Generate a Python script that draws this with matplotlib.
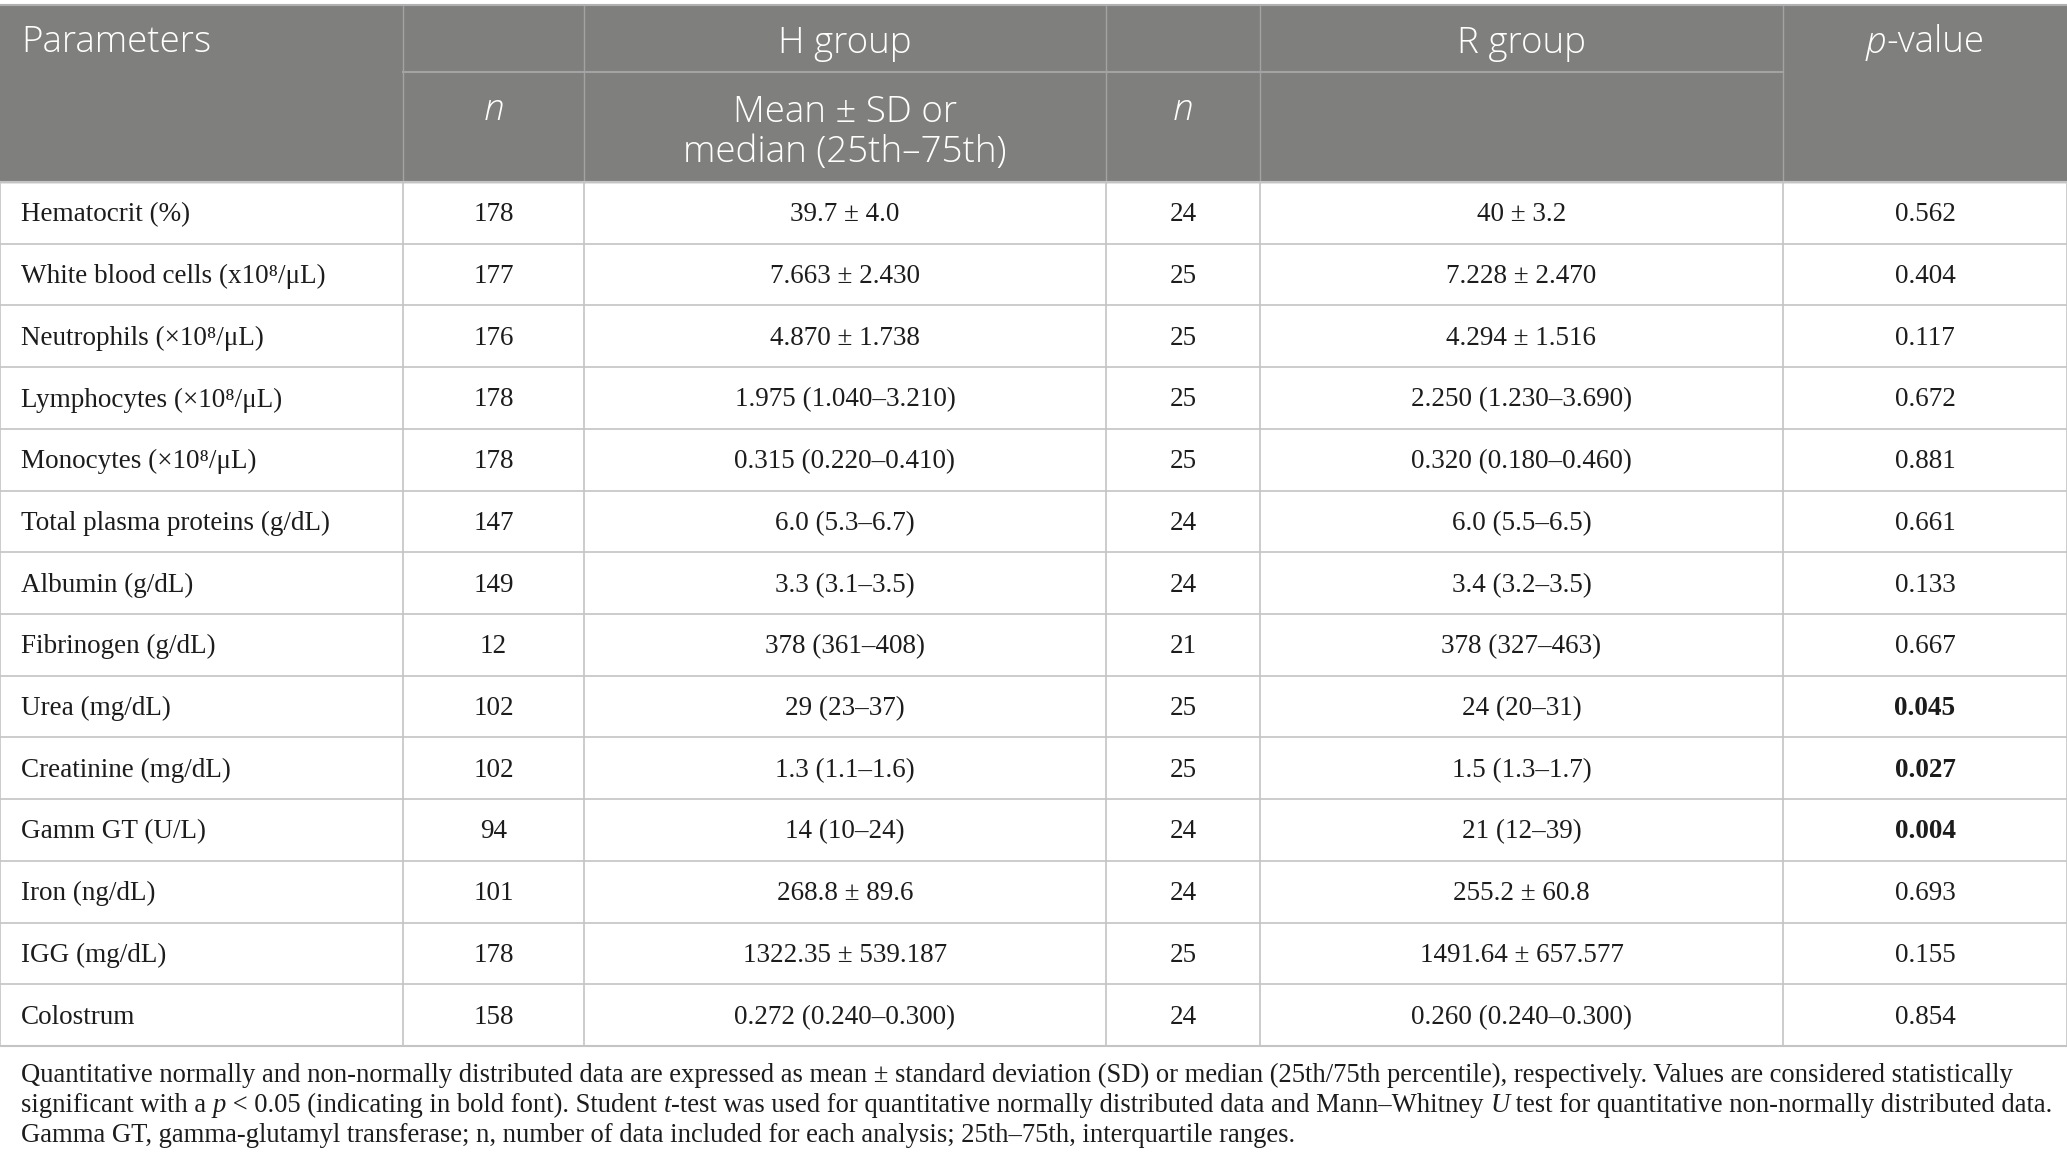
import matplotlib
matplotlib.use('Agg')
import matplotlib.pyplot as plt
from matplotlib.patches import Rectangle

# table contents
params = ['Hematocrit (%)', 'White blood cells (x10⁸/μL)', 'Neutrophils (×10⁸/μL)',
          'Lymphocytes (×10⁸/μL)', 'Monocytes (×10⁸/μL)', 'Total plasma proteins (g/dL)',
          'Albumin (g/dL)', 'Fibrinogen (g/dL)', 'Urea (mg/dL)', 'Creatinine (mg/dL)',
          'Gamm GT (U/L)', 'Iron (ng/dL)', 'IGG (mg/dL)', 'Colostrum']
h_n = [178, 177, 176, 178, 178, 147, 149, 12, 102, 102, 94, 101, 178, 158]
h_vals = ['39.7 ± 4.0', '7.663 ± 2.430', '4.870 ± 1.738', '1.975 (1.040–3.210)',
          '0.315 (0.220–0.410)', '6.0 (5.3–6.7)', '3.3 (3.1–3.5)', '378 (361–408)',
          '29 (23–37)', '1.3 (1.1–1.6)', '14 (10–24)', '268.8 ± 89.6',
          '1322.35 ± 539.187', '0.272 (0.240–0.300)']
r_n = [24, 25, 25, 25, 25, 24, 24, 21, 25, 25, 24, 24, 25, 24]
r_vals = ['40 ± 3.2', '7.228 ± 2.470', '4.294 ± 1.516', '2.250 (1.230–3.690)',
          '0.320 (0.180–0.460)', '6.0 (5.5–6.5)', '3.4 (3.2–3.5)', '378 (327–463)',
          '24 (20–31)', '1.5 (1.3–1.7)', '21 (12–39)', '255.2 ± 60.8',
          '1491.64 ± 657.577', '0.260 (0.240–0.300)']
p_vals = ['0.562', '0.404', '0.117', '0.672', '0.881', '0.661', '0.133', '0.667',
          '0.045', '0.027', '0.004', '0.693', '0.155', '0.854']
significant = [False] * 8 + [True, True, True] + [False] * 3

notes = [
    [('Quantitative normally and non-normally distributed data are expressed as mean ± standard deviation '
      '(SD) or median (25th/75th percentile), respectively. Values are considered statistically', 'normal')],
    [('significant with a ', 'normal'), ('p', 'italic'),
     (' < 0.05 (indicating in bold font). Student ', 'normal'), ('t', 'italic'),
     ('-test was used for quantitative normally distributed data and Mann–Whitney ', 'normal'),
     ('U', 'italic'), (' test for quantitative non-normally distributed data.', 'normal')],
    [('Gamma GT, gamma-glutamyl transferase; n, number of data included for each analysis; '
      '25th–75th, interquartile ranges.', 'normal')],
]

W, H = 2067, 1172
fig = plt.figure(figsize=(W / 100, H / 100), dpi=100)
ax = fig.add_axes([0, 0, 1, 1])
ax.set_xlim(0, W)
ax.set_ylim(H, 0)
ax.axis('off')
renderer = fig.canvas.get_renderer()

header_bg = '#7f807e'
grid = '#c4c4c4'
ink = '#1c1c1c'
serif = 'Liberation Serif'
sans = 'Open Sans'

cols = [0, 403, 584, 1106, 1260, 1783, 2067]
top, mid, hdr_bot = 5, 72, 182
row_h = (1046 - hdr_bot) / len(params)

# header block
ax.add_patch(Rectangle((0, top), W, hdr_bot - top, color=header_bg, zorder=0))
ax.plot([cols[1], cols[5]], [mid, mid], color='#a3a3a3', lw=1.5)
for x in cols[1:6]:
    ax.plot([x, x], [top, hdr_bot], color='#a3a3a3', lw=1)
ax.plot([0, W], [top, top], color='#b0b0b0', lw=1.5)

hkw = dict(color='white', fontsize=26.5, family=sans, fontweight='light', va='center')
ax.text(21, 43, 'Parameters', ha='left', **hkw)
ax.text((cols[2] + cols[3]) / 2, 43, 'H group', ha='center', **hkw)
ax.text((cols[4] + cols[5]) / 2, 43, 'R group', ha='center', **hkw)

# p-value: italic p + upright rest, centred as one piece
pv = ax.text(0, 43, 'p', ha='left', style='italic', **hkw)
rest = ax.text(0, 43, '-value', ha='left', **hkw)
wp = pv.get_window_extent(renderer).width
wr = rest.get_window_extent(renderer).width
x0 = (cols[5] + cols[6]) / 2 - (wp + wr) / 2
pv.set_x(x0)
rest.set_x(x0 + wp)

ax.text((cols[1] + cols[2]) / 2, 110, 'n', ha='center', style='italic', **hkw)
ax.text((cols[3] + cols[4]) / 2, 110, 'n', ha='center', style='italic', **hkw)
ax.text((cols[2] + cols[3]) / 2, 112, 'Mean ± SD or', ha='center', **hkw)
ax.text((cols[2] + cols[3]) / 2, 153, 'median (25th–75th)', ha='center', **hkw)

# body grid
body_bot = hdr_bot + row_h * len(params)
for i in range(len(params) + 1):
    y = hdr_bot + i * row_h
    ax.plot([0, W], [y, y], color=grid, lw=1.5 if i in (0, len(params)) else 1.2)
for x in cols:
    ax.plot([x, x], [hdr_bot, body_bot], color=grid, lw=1.2)

bkw = dict(color=ink, fontsize=19.5, family=serif, va='center')
for i in range(len(params)):
    y = hdr_bot + (i + 0.5) * row_h + 2
    ax.text(21, y, params[i], ha='left', **bkw)
    ax.text((cols[1] + cols[2]) / 2, y, str(h_n[i]), ha='center', **bkw)
    ax.text((cols[2] + cols[3]) / 2, y, h_vals[i], ha='center', **bkw)
    ax.text((cols[3] + cols[4]) / 2, y, str(r_n[i]), ha='center', **bkw)
    ax.text((cols[4] + cols[5]) / 2, y, r_vals[i], ha='center', **bkw)
    ax.text((cols[5] + cols[6]) / 2, y, p_vals[i], ha='center',
            fontweight='bold' if significant[i] else 'normal', **bkw)

# footnote
nkw = dict(color=ink, fontsize=19.2, family=serif)
for j, line in enumerate(notes):
    y = 1075 + 30 * j
    prev = None
    for seg, st in line:
        if prev is None:
            prev = ax.text(21, y, seg, ha='left', va='center', style=st, **nkw)
        else:
            prev = ax.annotate(seg, xy=(1, 0.5), xycoords=prev, ha='left', va='center',
                               style=st, **nkw)

fig.savefig('out.png', dpi=100)
